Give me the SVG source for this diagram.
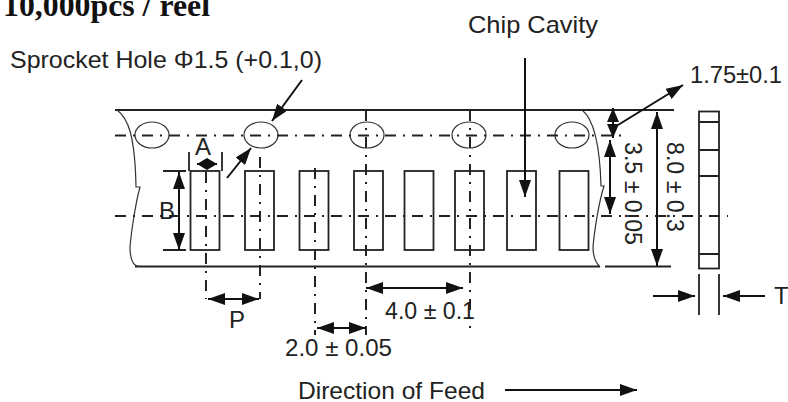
<svg xmlns="http://www.w3.org/2000/svg" width="788" height="402" viewBox="0 0 788 402">
<style>
.s{fill:none;stroke:#222;stroke-width:1.8}
.thin{fill:none;stroke:#333;stroke-width:1.2}
.dd{fill:none;stroke:#222;stroke-width:2;stroke-dasharray:11 7 2 7}
.a{fill:none;stroke:#111;stroke-width:2;marker-end:url(#h)}
.b{fill:none;stroke:#111;stroke-width:2;marker-start:url(#h);marker-end:url(#h)}
.c{fill:none;stroke:#111;stroke-width:2;marker-start:url(#hs);marker-end:url(#hs)}
.d{fill:none;stroke:#111;stroke-width:2;marker-start:url(#hm);marker-end:url(#hm)}
text{font-family:"Liberation Sans",Arial,sans-serif;font-size:24px;fill:#222}
.title{font-family:"Liberation Serif",serif;font-size:31px;font-weight:bold;fill:#111}
</style>
<defs>
<marker id="h" markerUnits="userSpaceOnUse" markerWidth="18" markerHeight="12" refX="17" refY="6" orient="auto-start-reverse"><path d="M0 0L17 6L0 12Z" fill="#111"/></marker>
<marker id="hs" markerUnits="userSpaceOnUse" markerWidth="11" markerHeight="12" refX="10" refY="6" orient="auto-start-reverse"><path d="M0 0L10 6L0 12Z" fill="#111"/></marker>
<marker id="hm" markerUnits="userSpaceOnUse" markerWidth="15" markerHeight="12" refX="14" refY="6" orient="auto-start-reverse"><path d="M0 0L14 6L0 12Z" fill="#111"/></marker>
</defs>
<rect width="788" height="402" fill="#fff"/>
<text class="title" x="3" y="15.500" textLength="207" lengthAdjust="spacingAndGlyphs">10,000pcs / reel</text>
<g id="tape">
<path class="s" d="M115 110H674M135 266.500H600M605 266.500H671"/>
<path class="thin" d="M117 110C128 118 135 135 136 187L140 187C135 205 131 235 130 247C130 258 133 266 139 266.500"/>
<path class="thin" d="M582 110C595 120 600 150 601 186L604 186C598 205 594 235 593 247C593 255 596 263 600 267"/>
</g>
<g id="holes" class="thin">
<ellipse cx="152" cy="135" rx="17" ry="13"/>
<ellipse cx="261" cy="135" rx="17" ry="13"/>
<ellipse cx="367" cy="135" rx="17" ry="13"/>
<ellipse cx="469" cy="135" rx="17" ry="13"/>
<ellipse cx="572" cy="135" rx="17" ry="13"/>
</g>
<g id="cavities" class="s">
<rect x="190.500" y="171" width="29" height="79"/>
<rect x="245" y="171" width="29" height="79"/>
<rect x="299.500" y="171" width="29" height="79"/>
<rect x="354" y="171" width="29" height="79"/>
<rect x="404.500" y="171" width="29" height="79"/>
<rect x="455" y="171" width="29" height="79"/>
<rect x="507" y="171" width="29" height="79"/>
<rect x="559.500" y="171" width="29" height="79"/>
</g>
<g id="centerlines" class="dd">
<path d="M115 135.500H622"/>
<path d="M115 216H728"/>
<path d="M206 172V299"/>
<path d="M260 157V299"/>
<path d="M315 168V335"/>
<path d="M366 110V335"/>
<path d="M470 110V328"/>
</g>
<g id="side-view" class="s">
<rect x="699" y="111.500" width="20" height="157"/>
<path d="M699 122H719M699 150H719M699 176H719M699 254H719M699 274V315M719 274V315"/>
<path d="M189 152V171M222 152V171M163 171H186M163 250H186"/>
</g>
<g id="connectors">
<path class="a" d="M525 58V197"/>
<path class="a" d="M302 80L272 121"/>
<path class="a" d="M227 178L251 148"/>
<path class="a" d="M618 125L683 85"/>
<path class="c" d="M197 164H217"/>
<path class="b" d="M179 172V250"/>
<path class="d" d="M613 108V138"/>
<path class="b" d="M610 140V214"/>
<path class="b" d="M657 112V266"/>
<path class="b" d="M208 299H259"/>
<path class="b" d="M317 328H366"/>
<path class="b" d="M366 288H463"/>
<path class="a" d="M653 296H695"/>
<path class="a" d="M765 296H723"/>
<path class="a" d="M505 390H637"/>
</g>
<g id="labels">
<text x="468" y="33" textLength="130" lengthAdjust="spacingAndGlyphs">Chip Cavity</text>
<text x="10" y="68" textLength="312" lengthAdjust="spacingAndGlyphs">Sprocket Hole Φ1.5 (+0.1,0)</text>
<text x="690" y="83" textLength="92" lengthAdjust="spacingAndGlyphs">1.75±0.1</text>
<text x="195" y="155">A</text>
<text x="159" y="219">B</text>
<text x="229" y="328">P</text>
<text x="285" y="356" textLength="107" lengthAdjust="spacingAndGlyphs">2.0 ± 0.05</text>
<text x="385" y="319" textLength="90" lengthAdjust="spacingAndGlyphs">4.0 ± 0.1</text>
<text x="298" y="399" textLength="187" lengthAdjust="spacingAndGlyphs">Direction of Feed</text>
<text x="774" y="304">T</text>
<text transform="translate(625 142) rotate(90)" textLength="103" lengthAdjust="spacingAndGlyphs">3.5 ± 0.05</text>
<text transform="translate(667 142) rotate(90)" textLength="90" lengthAdjust="spacingAndGlyphs">8.0 ± 0.3</text>
</g>
</svg>
